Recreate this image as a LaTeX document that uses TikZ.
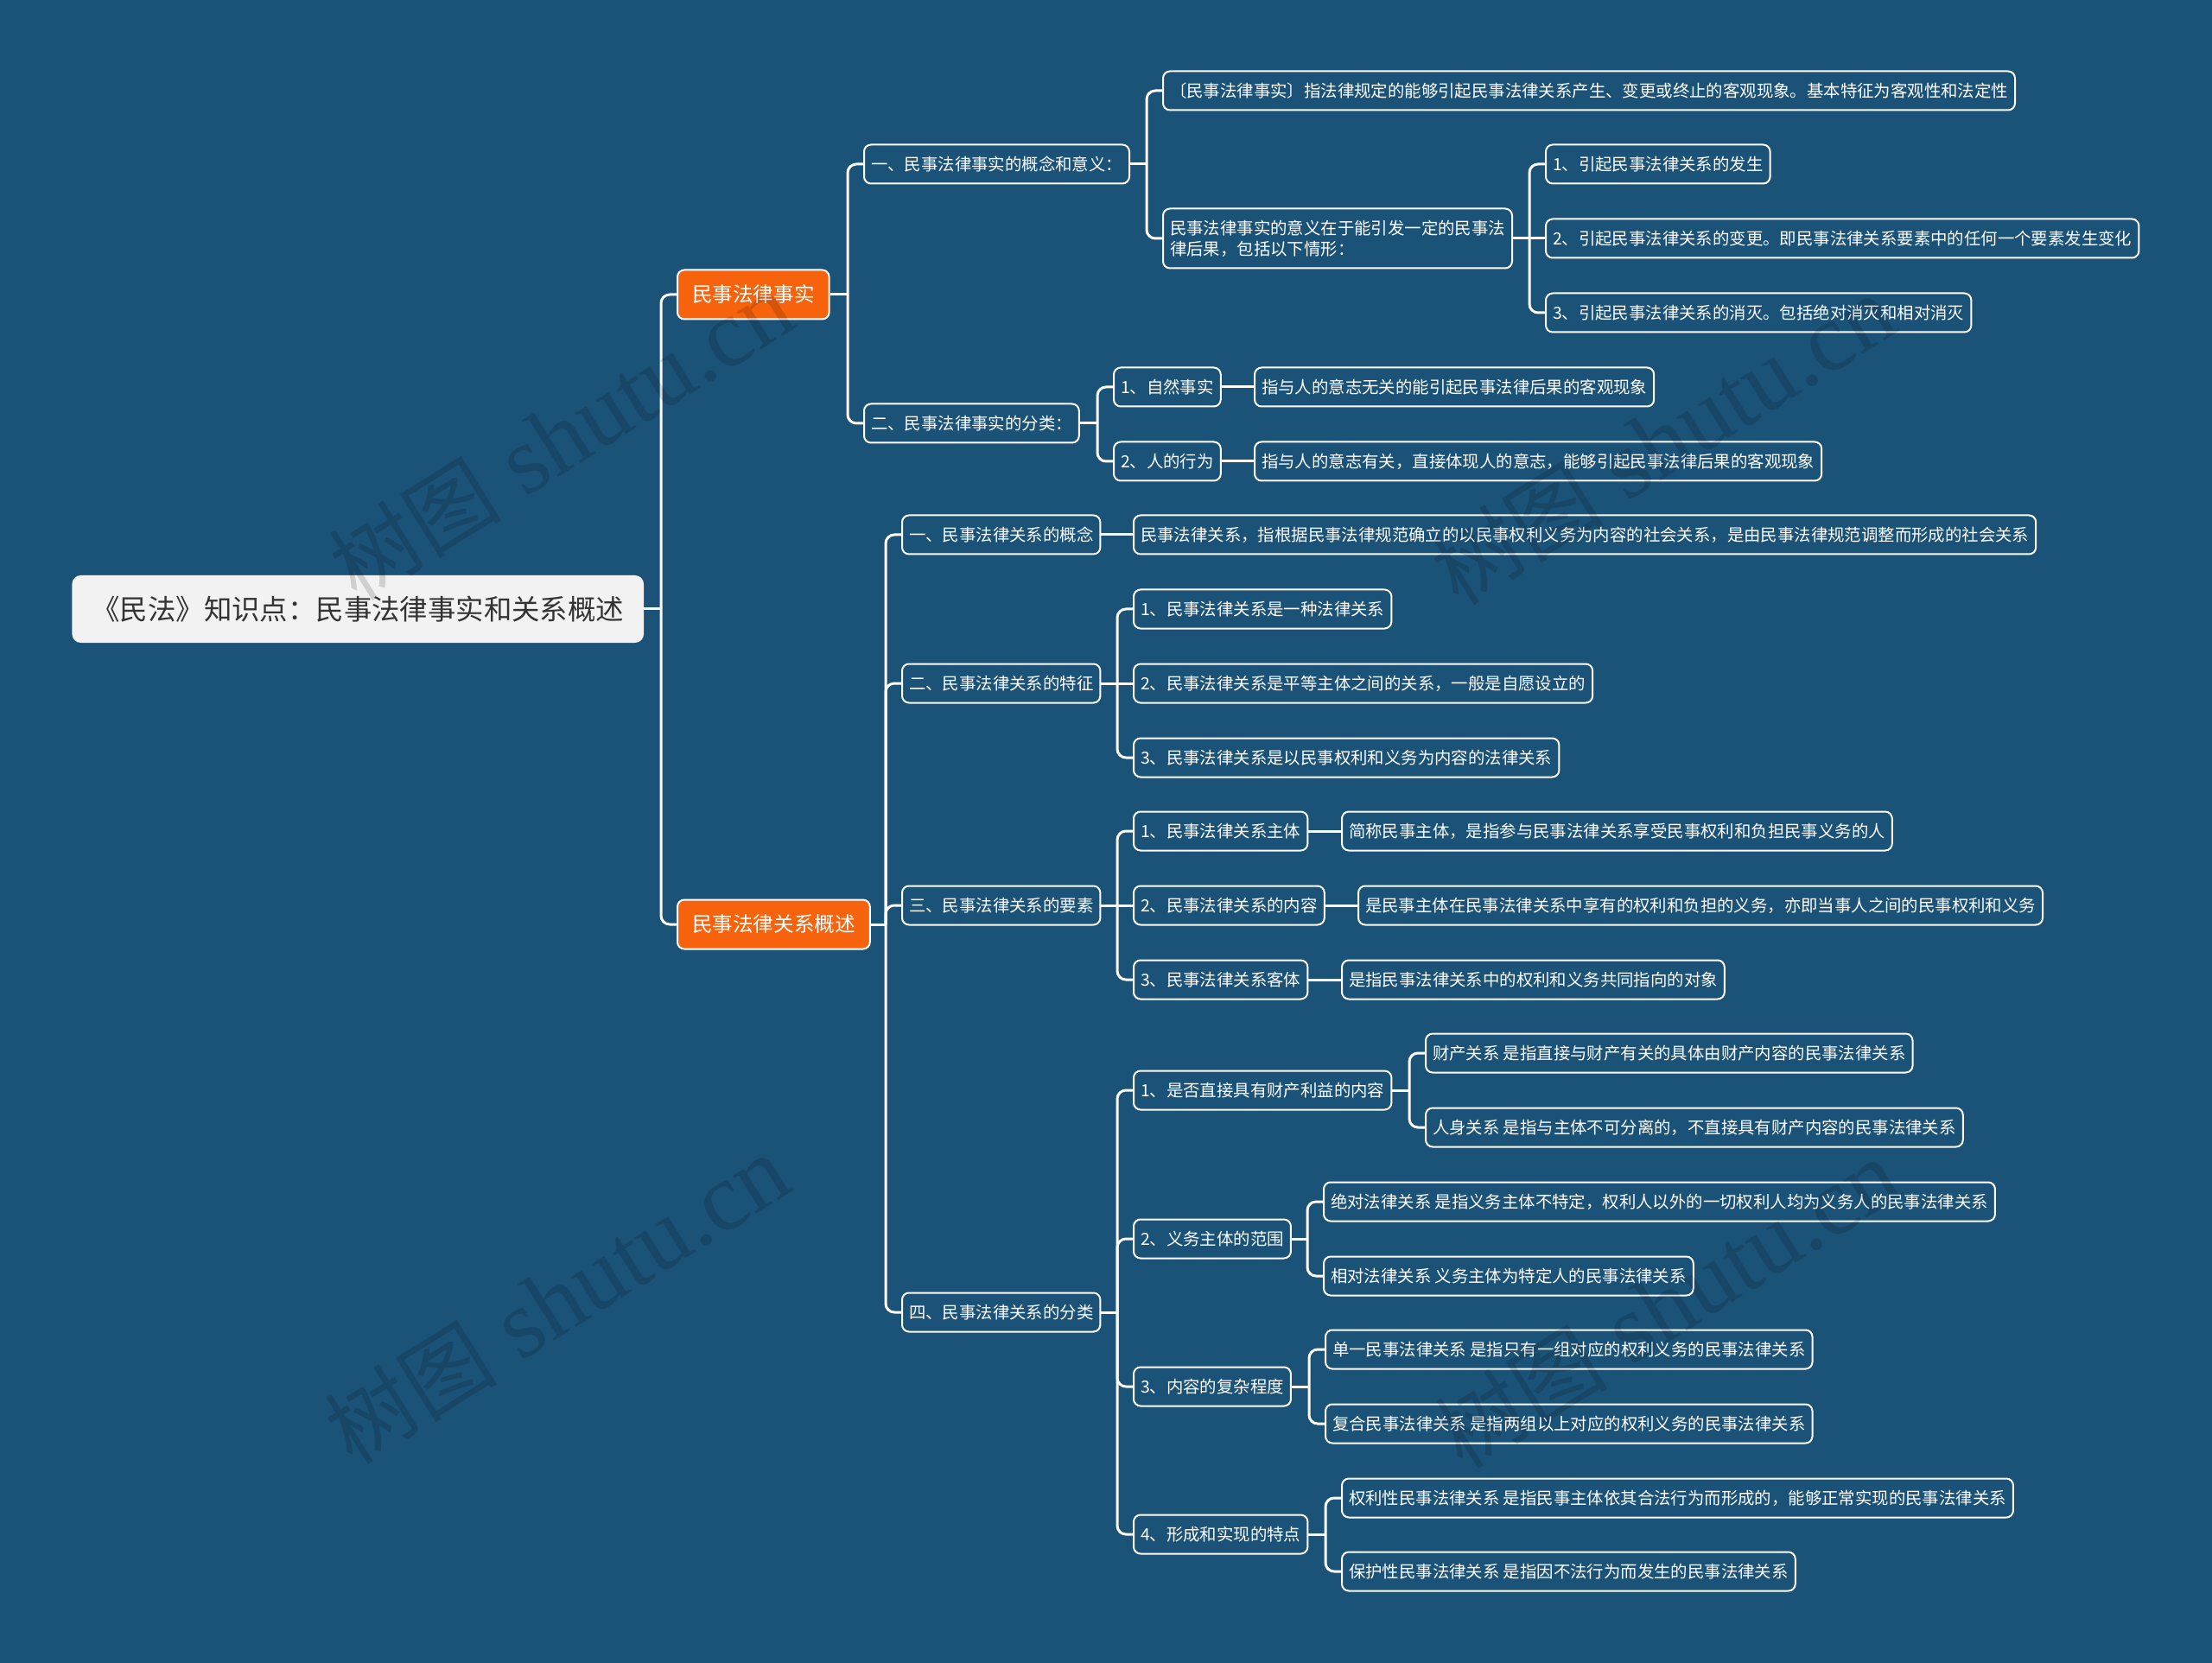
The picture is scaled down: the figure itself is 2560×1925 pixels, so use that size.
\documentclass[tikz,border=0pt]{standalone}
\usepackage{fontspec}
\newfontfamily\cjk{Noto Sans CJK SC}
\newfontfamily\wmlat{Liberation Serif}
\usetikzlibrary{calc}
\definecolor{bg}{HTML}{1B5278}
\definecolor{org}{HTML}{F7620C}
\definecolor{rootfill}{HTML}{F2F2F2}
\definecolor{roottext}{HTML}{333333}
\tikzset{
  box/.style={draw=white, line width=1pt, rounded corners=4pt, fill=bg, text=white,
    font=\cjk\fontsize{9.7pt}{12pt}\selectfont, inner xsep=4pt, inner ysep=0pt,
    minimum height=22.5pt, anchor=west},
  topic/.style={draw=white, line width=1pt, rounded corners=4pt, fill=org, text=white,
    font=\cjk\fontsize{11.8pt}{14pt}\selectfont, inner xsep=8.5pt, inner ysep=0pt,
    minimum height=28.5pt, anchor=west},
  rootbox/.style={fill=rootfill, rounded corners=5pt, text=roottext,
    font=\cjk\fontsize{16.2pt}{19pt}\selectfont, inner xsep=11.5pt, inner ysep=0pt,
    minimum height=39pt, anchor=west},
  link/.style={draw=white, line width=1.5pt},
  wm/.style={text=black, opacity=0.14, rotate=32}
}
\newcommand\fork[2]{%
  \path (#2.west) ++(-18,0) coordinate (tr);
  \draw[link] (#1.east) -- (tr |- #1.east);
  \draw[link, rounded corners=5pt] (tr |- #1.east) |- (#2.west);}
\newcommand\straight[2]{\draw[link] (#1.east) -- (#2.west);}
\newcommand\wmtext{{\cjk\fontsize{50pt}{50pt}\selectfont 树图}\hspace{14pt}{\wmlat\fontsize{56pt}{56pt}\selectfont shutu.cn}}
\begin{document}
\begin{tikzpicture}[x=0.5pt, y=-0.5pt]
\fill[bg] (0,0) rectangle (2560,1925);
\useasboundingbox (0,0) rectangle (2560,1925);

% root and topics
\node[rootbox] (R) at (83,705) {《民法》知识点：民事法律事实和关系概述};
\node[topic] (T1) at (783,341) {民事法律事实};
\node[topic] (T2) at (783,1070) {民事法律关系概述};

% branch 1
\node[box] (A1) at (999,190) {一、民事法律事实的概念和意义：};
\node[box] (A2) at (999,490) {二、民事法律事实的分类：};
\node[box] (B1) at (1345,105) {〔民事法律事实〕指法律规定的能够引起民事法律关系产生、变更或终止的客观现象。基本特征为客观性和法定性};
\node[box, align=left, minimum height=34.5pt] (B2) at (1345,276) {民事法律事实的意义在于能引发一定的民事法\\律后果，包括以下情形：};
\node[box] (C1) at (1788,190) {1、引起民事法律关系的发生};
\node[box] (C2) at (1788,276) {2、引起民事法律关系的变更。即民事法律关系要素中的任何一个要素发生变化};
\node[box] (C3) at (1788,362) {3、引起民事法律关系的消灭。包括绝对消灭和相对消灭};
\node[box] (D1) at (1288,448) {1、自然事实};
\node[box] (D2) at (1288,534) {2、人的行为};
\node[box] (E1) at (1451,448) {指与人的意志无关的能引起民事法律后果的客观现象};
\node[box] (E2) at (1451,534) {指与人的意志有关，直接体现人的意志，能够引起民事法律后果的客观现象};

% branch 2
\node[box] (F1) at (1043,619) {一、民事法律关系的概念};
\node[box] (G1) at (1311,619) {民事法律关系，指根据民事法律规范确立的以民事权利义务为内容的社会关系，是由民事法律规范调整而形成的社会关系};
\node[box] (F2) at (1043,791) {二、民事法律关系的特征};
\node[box] (H1) at (1311,705) {1、民事法律关系是一种法律关系};
\node[box] (H2) at (1311,791) {2、民事法律关系是平等主体之间的关系，一般是自愿设立的};
\node[box] (H3) at (1311,877) {3、民事法律关系是以民事权利和义务为内容的法律关系};
\node[box] (F3) at (1043,1048) {三、民事法律关系的要素};
\node[box] (I1) at (1311,962) {1、民事法律关系主体};
\node[box] (J1) at (1552,962) {简称民事主体，是指参与民事法律关系享受民事权利和负担民事义务的人};
\node[box] (I2) at (1311,1048) {2、民事法律关系的内容};
\node[box] (J2) at (1571,1048) {是民事主体在民事法律关系中享有的权利和负担的义务，亦即当事人之间的民事权利和义务};
\node[box] (I3) at (1311,1134) {3、民事法律关系客体};
\node[box] (J3) at (1552,1134) {是指民事法律关系中的权利和义务共同指向的对象};
\node[box] (F4) at (1043,1519) {四、民事法律关系的分类};
\node[box] (K1) at (1311,1262) {1、是否直接具有财产利益的内容};
\node[box] (L1) at (1649,1219) {财产关系 是指直接与财产有关的具体由财产内容的民事法律关系};
\node[box] (L2) at (1649,1305) {人身关系 是指与主体不可分离的，不直接具有财产内容的民事法律关系};
\node[box] (K2) at (1311,1434) {2、义务主体的范围};
\node[box] (M1) at (1531,1391) {绝对法律关系 是指义务主体不特定，权利人以外的一切权利人均为义务人的民事法律关系};
\node[box] (M2) at (1531,1477) {相对法律关系 义务主体为特定人的民事法律关系};
\node[box] (K3) at (1311,1605) {3、内容的复杂程度};
\node[box] (N1) at (1533,1562) {单一民事法律关系 是指只有一组对应的权利义务的民事法律关系};
\node[box] (N2) at (1533,1648) {复合民事法律关系 是指两组以上对应的权利义务的民事法律关系};
\node[box] (K4) at (1311,1776) {4、形成和实现的特点};
\node[box] (P1) at (1552,1734) {权利性民事法律关系 是指民事主体依其合法行为而形成的，能够正常实现的民事法律关系};
\node[box] (P2) at (1552,1819) {保护性民事法律关系 是指因不法行为而发生的民事法律关系};

% connectors
\fork{R}{T1} \fork{R}{T2}
\fork{T1}{A1} \fork{T1}{A2}
\fork{A1}{B1} \fork{A1}{B2}
\fork{B2}{C1} \straight{B2}{C2} \fork{B2}{C3}
\fork{A2}{D1} \fork{A2}{D2}
\straight{D1}{E1} \straight{D2}{E2}
\fork{T2}{F1} \fork{T2}{F2} \fork{T2}{F3} \fork{T2}{F4}
\straight{F1}{G1}
\fork{F2}{H1} \straight{F2}{H2} \fork{F2}{H3}
\fork{F3}{I1} \straight{F3}{I2} \fork{F3}{I3}
\straight{I1}{J1} \straight{I2}{J2} \straight{I3}{J3}
\fork{F4}{K1} \fork{F4}{K2} \fork{F4}{K3} \fork{F4}{K4}
\fork{K1}{L1} \fork{K1}{L2}
\fork{K2}{M1} \fork{K2}{M2}
\fork{K3}{N1} \fork{K3}{N2}
\fork{K4}{P1} \fork{K4}{P2}

% watermarks
\node[wm] (W1) at (650,505) {\wmtext};
\node[wm] (W2) at (1925,510) {\wmtext};
\node[wm] (W3) at (645,1505) {\wmtext};
\node[wm] (W4) at (1930,1510) {\wmtext};
\end{tikzpicture}
\end{document}
